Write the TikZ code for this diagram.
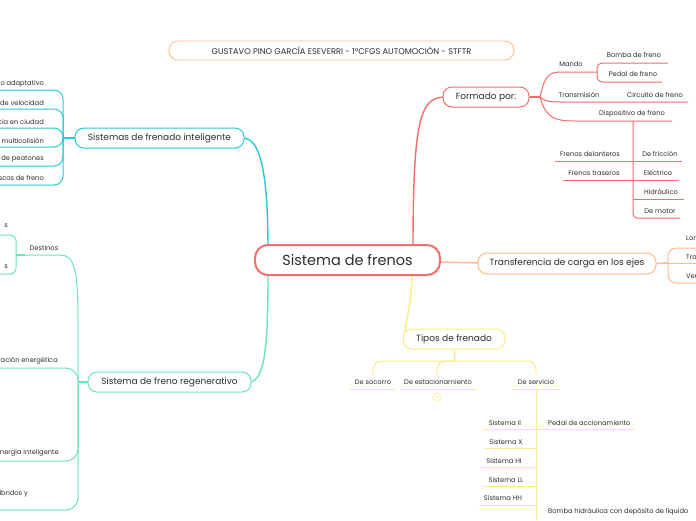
\documentclass[tikz,border=0pt]{standalone}
\usepackage{fontspec}
\setmainfont{Poppins}
\definecolor{cred}{HTML}{F46D6D}
\definecolor{ccyan}{HTML}{22CCD4}
\definecolor{cmint}{HTML}{6BE3BC}
\definecolor{corange}{HTML}{FFB98C}
\definecolor{cyel}{HTML}{FFEA85}
\definecolor{ctext}{HTML}{2E2E2E}
\begin{document}
\begin{tikzpicture}[x=1pt,y=-1pt,
  topic/.style={draw, rounded corners=9pt, line width=1pt, minimum height=20pt, text=ctext, font=\fontsize{9}{10}\selectfont, inner sep=0pt, fill=white},
  lab/.style={text=ctext, font=\fontsize{6.7}{7.5}\selectfont, inner sep=0pt},
  main/.style={line width=1.4pt},
  sub/.style={line width=1pt},
]
\clip (0,0) rectangle (696,520);
\fill[white] (0,0) rectangle (696,520);

% ---------- main connectors
\draw[main,cred] (413,250) .. controls (413,120) and (420,97) .. (445,97);
\draw[main,ccyan] (243,138) .. controls (262,138) and (268,180) .. (268,250);
\draw[main,cmint] (268,270) .. controls (268,340) and (266,382) .. (249,382);
\draw[main,corange] (440,262) -- (480,263);
\draw[main,cyel] (412,270) .. controls (412,310) and (405,318) .. (405,334);

% ---------- topics
\node[topic, draw=corange, line width=0.8pt, minimum width=345pt, minimum height=19pt, font=\fontsize{8.3}{9}\selectfont] (title) at (341.5,50.5) {GUSTAVO PINO GARCÍA ESEVERRI - 1ºCFGS AUTOMOCIÓN - STFTR};
\node[topic, draw=cred, line width=2pt, minimum width=185pt, minimum height=30pt, rounded corners=13pt, font=\fontsize{14.5}{16}\selectfont] (root) at (347.5,260) {Sistema de frenos};
\node[topic, draw=cred, minimum width=86pt] (formado) at (486,97) {Formado por:};
\node[topic, draw=ccyan, minimum width=169pt] (intel) at (159.5,138) {Sistemas de frenado inteligente};
\node[topic, draw=cmint, minimum width=163pt] (regen) at (169.5,382) {Sistema de freno regenerativo};
\node[topic, draw=corange, minimum width=178pt, minimum height=21pt] (transf) at (567,263.5) {Transferencia de carga en los ejes};
\node[topic, draw=cyel, minimum width=102pt] (tipos) at (454,339) {Tipos de frenado};

% ---------- cyan children
\coordinate (ci) at (63,138);
\draw[main,ccyan] (intel.west) -- (ci);
\foreach \y in {90,109,128,147,166,185}{
  \draw[sub,ccyan,rounded corners=9pt] (ci) |- (0,\y);
}
\node[lab,anchor=east] (ci1) at (44,84) {o adaptativo};
\node[lab,anchor=east] (ci2) at (44,103) {de velocidad};
\node[lab,anchor=east] (ci3) at (44,122) {cia en ciudad};
\node[lab,anchor=east] (ci4) at (44,141) {multicolisión};
\node[lab,anchor=east] (ci5) at (44,159) {de peatones};
\node[lab,anchor=east] (ci6) at (44,178) {scos de freno};

% ---------- mint children
\coordinate (mi) at (78,382);
\coordinate (md) at (16,255);
\draw[main,cmint] (regen.west) -- (mi);
\draw[sub,cmint] (mi) -- (78,320) .. controls (78,268) and (74,255) .. (60,255) -- (25,255);
\draw[main,cmint] (25,255) -- (md);
\draw[sub,cmint,rounded corners=6pt] (md) |- (0,235);
\draw[sub,cmint,rounded corners=6pt] (md) |- (0,274);
\draw[sub,cmint,rounded corners=12pt] (mi) |- (0,368);
\draw[sub,cmint,rounded corners=12pt] (mi) |- (0,461);
\draw[sub,cmint,rounded corners=12pt] (mi) |- (0,510);
\node[lab,anchor=east] (m0a) at (8,226) {s};
\node[lab,anchor=east] (m0b) at (8,267) {s};
\node[lab] (destinos) at (44,248) {Destinos};
\node[lab,anchor=east] (m1) at (58,361) {ración energética};
\node[lab,anchor=east] (m2) at (59,453) {nergía inteligente};
\node[lab,anchor=east] (m3) at (28,494) {íbridos y};

% ---------- red children
\coordinate (fr) at (540,97);
\draw[main,cred] (formado.east) -- (fr);
\draw[sub,cred] (fr) .. controls (545,74) and (550,72) .. (562,72) -- (597,72);
\draw[sub,cred,rounded corners=5pt] (597,72) |- (668,63);
\draw[sub,cred,rounded corners=5pt] (597,72) |- (662,82);
\draw[sub,cred] (fr) .. controls (544,101) and (550,102) .. (560,102) -- (688,102);
\draw[sub,cred] (fr) .. controls (546,119) and (556,121) .. (575,121) -- (672,121);
\coordinate (dv) at (633,121);
\draw[sub,cred,rounded corners=4pt] (dv) |- (680,218);
\draw[sub,cred] (633,161) -- (682,161);
\draw[sub,cred] (633,180) -- (679,180);
\draw[sub,cred] (633,199) -- (684,199);
\draw[sub,cred] (555,161) -- (633,161);
\draw[sub,cred] (563,180) -- (633,180);
\node[lab] (mando) at (571,64) {Mando};
\node[lab] (bomba) at (634,55) {Bomba de freno};
\node[lab] (pedal) at (633,74) {Pedal de freno};
\node[lab] (transm) at (579,95) {Transmisión};
\node[lab] (circ) at (655,95) {Circuito de freno};
\node[lab] (disp) at (632,114) {Dispositivo de freno};
\node[lab] (fdel) at (590,154) {Frenos delanteros};
\node[lab] (ftra) at (594,173) {Frenos traseros};
\node[lab] (fric) at (660,154) {De fricción};
\node[lab] (elec) at (658,173) {Eléctrico};
\node[lab] (hidr) at (661,192) {Hidráulico};
\node[lab] (motor) at (660,211) {De motor};

% ---------- orange children
\coordinate (oi) at (668,263);
\draw[main,corange] (transf.east) -- (oi);
\draw[sub,corange] (oi) -- (696,263);
\draw[sub,corange,rounded corners=8pt] (oi) |- (696,248);
\draw[sub,corange,rounded corners=8pt] (oi) |- (696,283);
\node[lab,anchor=west] (lon) at (686,238) {Lon};
\node[lab,anchor=west] (tra) at (686,257) {Tra};
\node[lab,anchor=west] (ver) at (686,276) {Ver};

% ---------- yellow children
\coordinate (yi) at (455,361);
\draw[main,cyel] (tipos.south) -- (yi);
\draw[sub,cyel,rounded corners=9pt] (yi) -| (373,375);
\draw[sub,cyel,rounded corners=9pt] (yi) -| (437,375);
\draw[sub,cyel,rounded corners=9pt] (yi) -| (536,375);
\draw[sub,cyel] (350,389) -- (395,389);
\draw[sub,cyel] (400,389) -- (476,389);
\draw[sub,cyel] (513,389) -- (559,389);
\draw[sub,cyel] (536,389) -- (536,520);
\foreach \y/\x in {429/483,448/485,467/481,486/482,505/479}{
  \draw[sub,cyel] (\x,\y) -- (536,\y);
}
\draw[sub,cyel] (536,429) -- (634,429);
\node[lab] (socorro) at (373,382) {De socorro};
\node[lab] (estac) at (438,382) {De estacionamiento};
\node[lab] (servicio) at (536,382) {De servicio};
\node[draw=cyel, circle, line width=0.6pt, minimum size=8pt, inner sep=0pt, text=cyel, font=\fontsize{3.5}{4}\selectfont] (cnt) at (437,397) {19};
\node[lab] (s1) at (505,423) {Sistema II};
\node[lab] (s2) at (506,442) {Sistema X};
\node[lab] (s3) at (504,461) {Sistema HI};
\node[lab] (s4) at (506,480) {Sistema LL};
\node[lab] (s5) at (503,498) {Sistema HH};
\node[lab,anchor=west] (pacc) at (548,423) {Pedal de accionamiento};
\node[lab,anchor=west] (bhid) at (548,512) {Bomba hidráulica con depósito de líquido};
\end{tikzpicture}
\end{document}
